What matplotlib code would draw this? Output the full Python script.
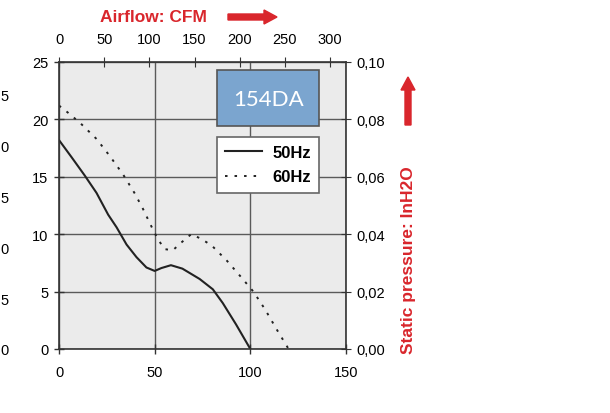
import numpy as np
import matplotlib
matplotlib.use('Agg')
import matplotlib.pyplot as plt
from matplotlib.patches import Rectangle, FancyArrow

plt.rcParams['font.family'] = ['Liberation Sans', 'DejaVu Sans']

# curve data: airflow in m3/h, static pressure in Pa
flow_50 = [0, 6.6, 13.5, 19.6, 25.7, 30.1, 35.3, 40.5, 45.7, 50, 53.5, 58.5, 64.5,
           73.5, 80.4, 85.6, 92.5, 100]
pres_50 = [18.2, 16.7, 15.1, 13.6, 11.7, 10.6, 9.1, 8.0, 7.1, 6.8, 7.05, 7.3, 7.0,
           6.1, 5.2, 4.0, 2.15, 0]
flow_60 = [0, 2.8, 11, 15.3, 19.6, 26.6, 33.5, 39.6, 43.9, 49.1, 51.7, 55.2, 59.5,
           63.9, 69.1, 74.3, 79.9, 87.7, 95.5, 101.6, 107.7, 113.8, 120]
pres_60 = [21.2, 20.85, 19.7, 19.0, 18.3, 16.8, 15.2, 13.55, 12.2, 10.4, 9.56, 8.7, 8.6,
           9.27, 10.0, 9.6, 9.0, 7.7, 6.2, 5.0, 3.45, 1.7, 0]

x_ticks = [0, 50, 100, 150]
y_ticks = [0, 5, 10, 15, 20, 25]
cfm_ticks = [0, 50, 100, 150, 200, 250, 300]
inh2o_ticks = [0.00, 0.02, 0.04, 0.06, 0.08, 0.10]
mm_ticks = [0, 0.5, 1.0, 1.5, 2.0, 2.5]
mm_labels = ['0', '5', '0', '5', '0', '5']  # only the last digit is visible

red = '#d9262c'
grid_c = '#5a5a5a'
fs = 10.5

fig = plt.figure(figsize=(6.10, 4.14), dpi=100)
ax = fig.add_axes([59/610, 64/414, 287/610, 287/414])
ax.set_facecolor('#ebebeb')
ax.set_xlim(0, 150)
ax.set_ylim(0, 25)
ax.set_xticks(x_ticks)
ax.set_yticks(y_ticks)
ax.grid(True, color=grid_c, linewidth=1.0)
ax.set_axisbelow(True)
ax.tick_params(direction='inout', length=7, width=1, color='#333333',
               labelsize=fs, pad=4)
ax.tick_params(axis='x', pad=8)
for s in ax.spines.values():
    s.set_color('#333333')
    s.set_linewidth(1.2)

ax.plot(flow_50, pres_50, color='#222222', linewidth=1.5, label='50Hz')
ax.plot(flow_60, pres_60, color='#222222', linewidth=1.4,
        linestyle=(0, (1.3, 3.6)), label='60Hz')

# model box
ax.add_patch(Rectangle((0.551, 0.777), 0.355, 0.195, transform=ax.transAxes,
                       facecolor='#7ba5cf', edgecolor='#555555', linewidth=1.2,
                       zorder=5))
ax.text(0.7285, 0.872, '154DA', transform=ax.transAxes, ha='center', va='center',
        color='white', fontsize=16, fontfamily=['Lato', 'Open Sans', 'DejaVu Sans'],
        zorder=6)

leg = ax.legend(loc='upper left', bbox_to_anchor=(0.551, 0.739), borderaxespad=0,
                frameon=True, fancybox=False, framealpha=1, handlelength=2.2,
                prop={'weight': 'bold', 'size': 12}, borderpad=0.5,
                labelspacing=0.55, handletextpad=0.6)
leg.get_frame().set_edgecolor('#666666')
leg.get_frame().set_linewidth(1.2)
leg.set_zorder(7)

# top CFM axis
ax_top = ax.twiny()
ax_top.set_xlim(0, 317.5)
ax_top.set_xticks(cfm_ticks)
ax_top.tick_params(direction='inout', length=7, color='#333333', labelsize=fs, pad=8)
for s in ax_top.spines.values():
    s.set_visible(False)

# right inH2O axis
ax_r = ax.twinx()
ax_r.set_ylim(0, 0.1)
ax_r.set_yticks(inh2o_ticks)
ax_r.set_yticklabels([f'{v:.2f}'.replace('.', ',') for v in inh2o_ticks])
ax_r.tick_params(direction='inout', length=7, color='#333333', labelsize=fs, pad=4)
for s in ax_r.spines.values():
    s.set_visible(False)

# far-left axis, mostly outside the figure
ax_mm = ax.twinx()
ax_mm.set_ylim(0, 2.814)
ax_mm.yaxis.set_ticks_position('left')
ax_mm.spines['left'].set_position(('axes', -0.166))
ax_mm.set_yticks(mm_ticks)
ax_mm.set_yticklabels(mm_labels)
ax_mm.tick_params(length=0, labelsize=fs, pad=2)
for s in ax_mm.spines.values():
    s.set_visible(False)

# axis titles with arrows
fig.text(153/610, 1 - 17/414, 'Airflow: CFM', color=red, fontsize=12.5,
         fontweight='bold', ha='center', va='center')
fig.patches.append(FancyArrow(228/610, 1 - 18/414, 49/610, 0, width=6/414,
                              head_width=14/414, head_length=13/610,
                              length_includes_head=True, color=red,
                              transform=fig.transFigure, figure=fig))
fig.text(409/610, 1 - 260/414, 'Static pressure: InH2O', color=red, fontsize=12.5,
         fontweight='bold', rotation=90, ha='center', va='center')
fig.patches.append(FancyArrow(408/610, 1 - 126/414, 0, 48/414, width=6/610,
                              head_width=14/610, head_length=13/414,
                              length_includes_head=True, color=red,
                              transform=fig.transFigure, figure=fig))

fig.savefig('out.png', dpi=100)
